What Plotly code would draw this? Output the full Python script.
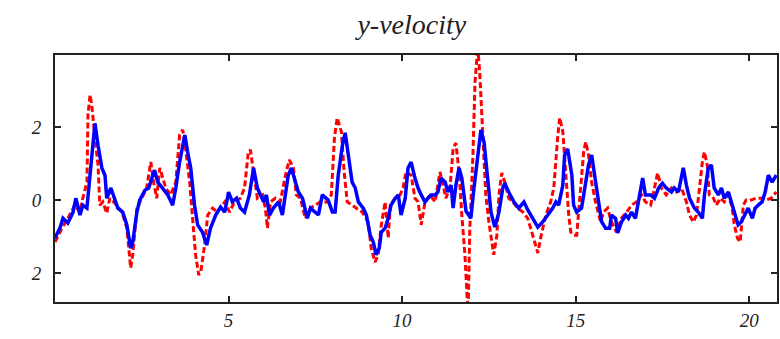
import plotly.graph_objects as go

blue_t = [0.00,0.14,0.23,0.37,0.52,0.60,0.72,0.80,0.92,0.98,1.06,1.15,1.24,1.35,1.44,1.49,1.61,1.72,1.81,1.95,
          2.07,2.18,2.24,2.36,2.44,2.59,2.70,2.79,2.87,2.96,3.10,3.25,3.39,3.48,3.59,3.74,3.82,3.91,4.02,4.11,
          4.25,4.37,4.48,4.63,4.77,4.89,5.00,5.11,5.23,5.34,5.46,5.60,5.72,5.83,5.92,6.01,6.09,6.18,6.29,6.44,
          6.55,6.64,6.72,6.81,6.93,7.01,7.13,7.27,7.36,7.50,7.59,7.70,7.79,7.87,7.99,8.07,8.16,8.28,8.36,8.45,
          8.56,8.65,8.74,8.88,8.97,9.08,9.17,9.25,9.34,9.40,9.51,9.60,9.68,9.80,9.89,9.97,10.09,10.17,10.26,10.37,
          10.46,10.55,10.66,10.75,10.83,10.95,11.03,11.12,11.24,11.32,11.41,11.47,11.55,11.64,11.72,11.84,11.98,12.07,12.18,12.27,
          12.36,12.47,12.56,12.67,12.79,12.90,12.96,13.07,13.22,13.36,13.51,13.62,13.76,13.91,14.05,14.20,14.34,14.43,14.51,14.63,
          14.68,14.77,14.89,14.94,15.03,15.17,15.29,15.37,15.46,15.55,15.66,15.75,15.86,15.98,16.03,16.15,16.21,16.32,16.44,16.52,
          16.61,16.72,16.84,16.93,17.01,17.16,17.27,17.39,17.50,17.61,17.76,17.84,17.96,18.10,18.19,18.28,18.42,18.53,18.65,18.71,
          18.82,18.91,18.99,19.11,19.20,19.28,19.40,19.51,19.60,19.68,19.77,19.86,19.97,20.09,20.17,20.26,20.37,20.46,20.55,20.66,20.78]
blue_v = [-1.04,-0.77,-0.50,-0.63,-0.33,0.05,-0.41,-0.14,-0.22,0.41,1.42,2.10,1.50,0.88,0.68,0.05,0.33,0.05,-0.22,-0.33,
          -0.68,-1.32,-1.15,-0.33,0.00,0.27,0.33,0.60,0.82,0.49,0.33,0.14,-0.14,0.33,1.04,1.78,1.32,0.88,-0.14,-0.68,
          -0.88,-1.23,-0.77,-0.41,-0.19,-0.33,0.22,-0.05,0.05,-0.22,-0.33,0.14,0.88,0.33,0.14,-0.05,0.14,-0.41,-0.22,-0.05,
          -0.41,0.14,0.68,0.88,0.49,0.22,0.05,-0.50,-0.22,-0.33,-0.41,0.14,0.05,0.00,-0.33,-0.33,0.68,1.50,1.84,1.23,
          0.49,0.33,-0.05,-0.22,-0.41,-0.96,-1.15,-1.50,-1.32,-0.88,-0.77,-0.50,-0.14,0.05,0.14,-0.41,0.05,0.88,1.04,0.60,
          0.33,0.14,-0.05,0.05,0.14,0.14,0.22,0.60,0.49,0.22,0.41,-0.22,0.41,0.88,0.60,-0.30,-0.50,0.33,1.23,1.92,
          1.59,0.49,-0.33,-0.74,-0.33,0.33,0.46,0.22,-0.05,-0.22,-0.05,-0.27,-0.50,-0.74,-0.60,-0.41,-0.22,-0.05,-0.14,0.41,
          1.23,1.40,0.68,-0.14,-0.33,-0.22,0.49,0.96,1.23,0.60,-0.05,-0.60,-0.77,-0.77,-0.41,-0.50,-0.90,-0.60,-0.41,-0.50,
          -0.33,-0.50,0.14,0.60,0.14,0.14,0.05,0.33,0.46,0.33,0.22,0.33,0.22,0.88,0.41,0.05,-0.22,-0.33,-0.50,0.14,
          0.88,0.96,0.33,0.14,0.33,0.05,0.22,-0.14,-0.50,-0.68,-0.60,-0.41,-0.22,-0.50,-0.22,-0.14,-0.05,0.22,0.68,0.49,0.68]

red_t = [0.00,0.20,0.37,0.57,0.72,0.80,0.92,0.95,1.01,1.06,1.15,1.24,1.29,1.38,1.49,1.58,1.72,1.93,2.07,2.18,
         2.24,2.36,2.50,2.64,2.76,2.84,2.93,3.02,3.19,3.33,3.48,3.59,3.68,3.76,3.88,3.97,4.05,4.14,4.20,4.31,
         4.40,4.54,4.68,4.89,5.03,5.17,5.34,5.46,5.57,5.63,5.75,5.83,5.98,6.06,6.12,6.21,6.35,6.49,6.64,6.75,
         6.87,6.95,7.07,7.21,7.36,7.50,7.64,7.84,7.96,8.05,8.13,8.25,8.33,8.42,8.56,8.71,8.85,9.02,9.11,9.22,
         9.31,9.40,9.51,9.60,9.66,9.80,9.94,10.03,10.11,10.26,10.37,10.46,10.55,10.66,10.80,10.95,11.09,11.18,11.26,11.38,
         11.47,11.55,11.64,11.72,11.81,11.87,11.90,11.95,12.04,12.10,12.18,12.24,12.33,12.41,12.50,12.59,12.64,12.73,12.79,12.87,
         12.96,13.07,13.19,13.33,13.48,13.62,13.76,13.91,13.99,14.14,14.28,14.37,14.48,14.54,14.63,14.71,14.80,14.86,14.94,15.03,
         15.14,15.23,15.29,15.37,15.46,15.57,15.72,15.80,15.92,16.03,16.18,16.32,16.47,16.61,16.75,16.90,17.01,17.16,17.27,17.36,
         17.47,17.61,17.76,17.90,18.05,18.19,18.28,18.39,18.48,18.56,18.65,18.71,18.79,18.85,18.97,19.05,19.17,19.28,19.40,19.51,
         19.57,19.66,19.74,19.83,19.91,20.06,20.20,20.34,20.49,20.63,20.78]
red_v = [-1.15,-0.77,-0.50,-0.14,-0.33,0.05,0.49,2.33,2.88,2.60,1.70,0.96,-0.14,-0.05,-0.36,0.05,-0.08,-0.33,-0.77,-1.86,
         -1.50,-0.22,0.05,0.33,1.04,0.49,0.05,0.88,0.33,0.14,0.49,1.78,1.92,1.42,0.49,-0.60,-1.50,-2.05,-1.97,-1.23,
         -0.41,-0.22,-0.33,-0.05,-0.33,-0.05,0.05,0.33,1.32,1.37,0.49,0.05,0.14,-0.22,-0.77,-0.05,0.05,-0.05,0.68,1.10,
         0.88,0.14,0.05,-0.50,-0.22,-0.14,-0.05,-0.05,0.14,1.70,2.25,1.87,0.77,-0.05,-0.14,-0.22,-0.33,-0.60,-1.32,-1.70,
         -1.50,-0.68,-0.05,-1.04,-0.14,0.05,0.14,0.33,0.77,0.68,0.05,-0.05,-0.68,-0.05,0.14,-0.05,0.77,0.41,0.05,0.33,
         1.42,1.56,0.77,-0.41,-1.50,-2.60,-3.10,-0.80,1.23,3.23,4.20,3.42,1.70,0.14,-0.60,-1.15,-1.50,-0.96,0.14,0.74,
         0.49,0.05,-0.05,-0.22,-0.33,-0.50,-0.96,-1.45,-1.04,-0.41,-0.05,0.33,1.70,2.25,1.87,0.68,-0.41,-0.88,-0.96,-0.96,
         0.33,1.32,1.59,1.23,0.49,-0.05,-0.60,-0.33,-0.22,-0.60,-0.88,-0.50,-0.33,-0.14,-0.05,0.14,-0.05,-0.14,0.33,0.74,
         0.33,0.14,0.33,0.22,0.33,-0.05,-0.41,-0.60,-0.41,0.33,1.04,1.32,0.96,0.14,0.05,-0.14,0.05,-0.05,0.14,-0.22,
         -0.68,-1.04,-1.15,-0.14,0.00,0.00,0.05,0.05,0.00,0.05,0.22]

y_tick_vals = [-2, 0, 2]
y_tick_text = ["2", "0", "2"]
x_tick_vals = [5, 10, 15, 20]
x_tick_text = ["5", "10", "15", "20"]

fig = go.Figure()
fig.add_trace(go.Scatter(x=red_t, y=red_v, mode="lines",
                         line=dict(color="#ff0000", width=3, dash="6px,3px"), showlegend=False))
fig.add_trace(go.Scatter(x=blue_t, y=blue_v, mode="lines",
                         line=dict(color="#0000ff", width=3.5), showlegend=False))

tickfont = dict(family="Liberation Serif", size=19, color="#222", style="italic")
fig.update_layout(
    width=780, height=339,
    margin=dict(l=55, r=1, t=55, b=37),
    paper_bgcolor="white", plot_bgcolor="white",
    title=dict(text="y-velocity", x=0.528, xanchor="center", y=0.93, yanchor="middle",
               font=dict(family="Liberation Serif", size=28, color="#222", style="italic")),
    xaxis=dict(range=[0, 20.8], tickvals=x_tick_vals, ticktext=x_tick_text,
               showgrid=False, zeroline=False, showline=True, linecolor="#222", linewidth=2,
               mirror="ticks", ticks="inside", ticklen=6, tickwidth=1.5, tickcolor="#222",
               tickfont=tickfont),
    yaxis=dict(range=[-2.79, 3.97], tickvals=y_tick_vals, ticktext=y_tick_text,
               showgrid=False, zeroline=False, showline=True, linecolor="#222", linewidth=2,
               mirror="ticks", ticks="inside", ticklen=6, tickwidth=1.5, tickcolor="#222",
               tickfont=tickfont, ticklabelstandoff=8),
)
fig.write_html("out.html", config={"displayModeBar": False},
               post_script="document.body.style.margin='0';document.body.style.overflow='hidden';")
